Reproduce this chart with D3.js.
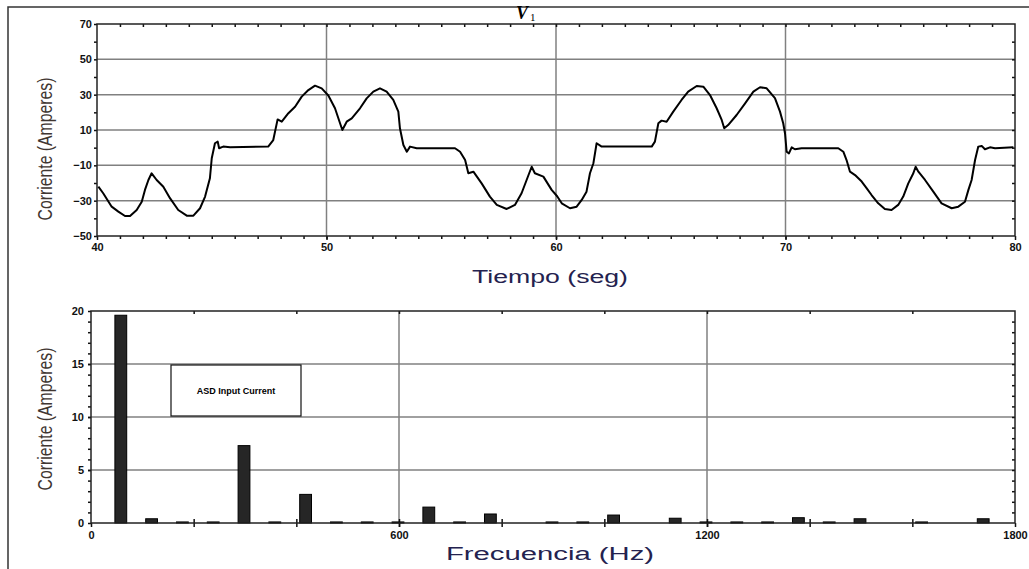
<!DOCTYPE html>
<html>
<head>
<meta charset="utf-8">
<title>Corriente de entrada</title>
<script src="https://cdn.jsdelivr.net/npm/d3@7"></script>
<style>
body { margin: 0; background: #fff; }
.tick text { font-family: "Liberation Sans Narrow", "Arial Narrow", sans-serif; font-weight: bold; font-size: 11px; fill: #111; }
.domain { stroke: none; }
</style>
</head>
<body>
<script>

// onda de corriente (tiempo en seg, corriente en A)
var timeSec = [40.06, 40.27, 40.64, 40.93, 41.22, 41.44, 41.73, 41.95, 42.09, 42.24, 42.38, 42.6, 42.89, 43.18, 43.54, 43.91, 44.2, 44.49, 44.71, 44.92, 45.0, 45.14, 45.26, 45.32, 45.5, 45.8, 47.46, 47.68, 47.87, 48.05, 48.34, 48.63, 48.92, 49.21, 49.5, 49.79, 50.08, 50.37, 50.59, 50.69, 50.88, 51.1, 51.46, 51.75, 52.04, 52.33, 52.62, 52.91, 53.13, 53.2, 53.35, 53.5, 53.64, 53.93, 55.6, 55.82, 56.04, 56.18, 56.4, 56.76, 57.12, 57.42, 57.85, 58.21, 58.5, 58.72, 58.94, 59.08, 59.45, 59.81, 60.05, 60.25, 60.61, 60.9, 61.12, 61.33, 61.48, 61.63, 61.77, 61.99, 62.13, 64.17, 64.31, 64.46, 64.6, 64.82, 65.11, 65.47, 65.76, 66.13, 66.42, 66.71, 67.0, 67.22, 67.33, 67.5, 67.87, 68.24, 68.6, 68.89, 69.18, 69.54, 69.76, 69.9, 69.98, 70.05, 70.15, 70.27, 70.41, 70.7, 72.3, 72.52, 72.66, 72.81, 73.03, 73.32, 73.54, 73.75, 74.04, 74.33, 74.62, 74.91, 75.13, 75.35, 75.57, 75.67, 75.79, 76.08, 76.44, 76.8, 77.24, 77.53, 77.82, 77.97, 78.11, 78.26, 78.4, 78.55, 78.69, 78.91, 79.13, 79.93];
var currentAmp = [-22.1, -25.8, -33.4, -36.2, -38.7, -38.7, -35.3, -30.6, -23.9, -18.3, -14.5, -18.3, -22.1, -28.6, -35.3, -38.5, -38.5, -34.3, -27.7, -17.3, -6.0, 2.5, 3.4, -0.3, 0.6, 0.2, 0.6, 4.3, 16.0, 14.7, 19.5, 23.2, 28.9, 32.6, 35.1, 33.6, 29.5, 22.3, 13.8, 10.0, 14.7, 16.6, 22.3, 27.9, 31.7, 33.6, 31.7, 27.0, 20.4, 11.0, 1.5, -2.3, 0.6, -0.3, -0.3, -2.3, -7.0, -14.5, -13.6, -20.2, -27.7, -32.4, -34.7, -32.4, -25.8, -18.3, -10.8, -14.5, -16.4, -23.9, -27.5, -31.5, -34.3, -33.4, -29.6, -24.9, -14.5, -8.8, 2.5, 0.6, 0.6, 0.6, 3.4, 13.8, 15.3, 14.7, 20.4, 27.0, 31.7, 34.9, 34.5, 29.8, 22.3, 15.7, 11.0, 12.8, 18.5, 25.1, 31.7, 34.2, 33.6, 28.0, 20.4, 13.8, 8.0, -2.3, -3.2, 0.2, -0.9, -0.3, -0.3, -2.3, -7.0, -13.6, -15.5, -19.2, -23.0, -26.8, -31.5, -34.7, -35.3, -32.4, -27.7, -20.2, -14.5, -10.8, -13.6, -18.3, -24.9, -31.5, -34.3, -33.4, -30.6, -23.9, -18.3, -7.0, 0.6, 1.0, -0.9, 0.2, -0.3, 0.2];

// espectro: orden de armonico (x 60 Hz) y amplitud en A
var harmonicOrder = [1, 2, 3, 4, 5, 6, 7, 8, 9, 10, 11, 12, 13, 15, 16, 17, 19, 20, 21, 22, 23, 24, 25, 27, 29];
var harmonicAmp   = [19.6, 0.4, 0.1, 0.1, 7.3, 0.1, 2.7, 0.1, 0.1, 0.1, 1.5, 0.1, 0.85, 0.1, 0.1, 0.75, 0.45, 0.1, 0.1, 0.1, 0.5, 0.1, 0.4, 0.1, 0.4];

var topXTicks = [40, 50, 60, 70, 80];
var topYTicks = [-50, -30, -10, 10, 30, 50, 70];
var botXTicks = [0, 600, 1200, 1800];
var botYTicks = [0, 5, 10, 15, 20];

var svg = d3.select("body").append("svg")
	.attr("width", 1029)
	.attr("height", 569);

// marco exterior
svg.append("path")
	.attr("d", "M8,569 L8,7 L1029,7")
	.attr("fill", "none")
	.attr("stroke", "#333")
	.attr("stroke-width", 1.5);

// titulo V1
svg.append("text")
	.attr("x", 516).attr("y", 19)
	.attr("font-family", "Liberation Serif, serif")
	.attr("font-style", "italic")
	.attr("font-weight", "bold")
	.attr("font-size", 18)
	.text("V");
svg.append("text")
	.attr("x", 530).attr("y", 21)
	.attr("font-family", "Liberation Serif, serif")
	.attr("font-size", 11)
	.text("1");

function gridAndBox(g, x, y, hLines, vLines) {
	g.selectAll(".hg").data(hLines).enter().append("line")
		.attr("x1", x.range()[0]).attr("x2", x.range()[1])
		.attr("y1", function(d){ return y(d); })
		.attr("y2", function(d){ return y(d); })
		.attr("stroke", "#808080").attr("stroke-width", 1.5);
	g.selectAll(".vg").data(vLines).enter().append("line")
		.attr("y1", y.range()[0]).attr("y2", y.range()[1])
		.attr("x1", function(d){ return x(d); })
		.attr("x2", function(d){ return x(d); })
		.attr("stroke", "#808080").attr("stroke-width", 1.5);
}

function drawBox(g, x, y) {
	g.append("rect")
		.attr("x", x.range()[0]).attr("y", y.range()[1])
		.attr("width", x.range()[1] - x.range()[0])
		.attr("height", y.range()[0] - y.range()[1])
		.attr("fill", "none").attr("stroke", "#222").attr("stroke-width", 1.5);
}

function styleTicks(sel) {
	sel.selectAll(".tick line").attr("stroke", "#111").attr("stroke-width", 1.5);
}

// ---------- grafico superior: corriente vs tiempo ----------
var xT = d3.scaleLinear().domain([40, 80]).range([97, 1015]);
var yT = d3.scaleLinear().domain([-50, 70]).range([236, 24]);
var gT = svg.append("g");

gridAndBox(gT, xT, yT, [50, 30, 10, -10, -30], [50, 60, 70]);

gT.append("g").attr("transform", "translate(0,236)")
	.call(d3.axisBottom(xT).tickValues(topXTicks).tickSize(4).tickPadding(3).tickFormat(d3.format("d")))
	.call(styleTicks);
gT.append("g").attr("transform", "translate(0,236)")
	.call(d3.axisBottom(xT).tickValues(d3.range(41, 80)).tickSize(3).tickFormat(""))
	.call(styleTicks);
gT.append("g").attr("transform", "translate(0,24)")
	.call(d3.axisBottom(xT).tickValues(d3.range(41, 80)).tickSize(3).tickFormat(""))
	.call(styleTicks);
gT.append("g").attr("transform", "translate(97,0)")
	.call(d3.axisLeft(yT).tickValues(topYTicks).tickSize(3).tickPadding(2).tickFormat(d3.format("d")))
	.call(styleTicks);
gT.append("g").attr("transform", "translate(97,0)")
	.call(d3.axisLeft(yT).tickValues(d3.range(-40, 70, 20)).tickSize(3).tickFormat(""))
	.call(styleTicks);
gT.append("g").attr("transform", "translate(1015,0)")
	.call(d3.axisLeft(yT).tickValues(d3.range(-40, 70, 10)).tickSize(3).tickFormat(""))
	.call(styleTicks);

drawBox(gT, xT, yT);

var line = d3.line()
	.x(function(d, i){ return xT(timeSec[i]); })
	.y(function(d){ return yT(d); });

gT.append("path")
	.datum(currentAmp)
	.attr("d", line)
	.attr("fill", "none")
	.attr("stroke", "#000")
	.attr("stroke-width", 2)
	.attr("stroke-linejoin", "round");

// ---------- grafico inferior: espectro ----------
var xB = d3.scaleLinear().domain([0, 1800]).range([91, 1015]);
var yB = d3.scaleLinear().domain([0, 20]).range([523, 311]);
var gB = svg.append("g");

gridAndBox(gB, xB, yB, [5, 10, 15], [600, 1200]);

gB.append("g").attr("transform", "translate(0,523)")
	.call(d3.axisBottom(xB).tickValues(botXTicks).tickSize(4).tickPadding(4).tickFormat(d3.format("d")))
	.call(styleTicks);
gB.append("g").attr("transform", "translate(0,527)")
	.call(d3.axisTop(xB).tickValues(d3.range(200, 1800, 200)).tickSize(8).tickFormat(""))
	.call(styleTicks);
gB.append("g").attr("transform", "translate(0,311)")
	.call(d3.axisBottom(xB).tickValues(d3.range(200, 1800, 200)).tickSize(3).tickFormat(""))
	.call(styleTicks);
gB.append("g").attr("transform", "translate(91,0)")
	.call(d3.axisLeft(yB).tickValues(botYTicks).tickSize(3).tickPadding(4).tickFormat(d3.format("d")))
	.call(styleTicks);
gB.append("g").attr("transform", "translate(91,0)")
	.call(d3.axisLeft(yB).tickValues(d3.range(1, 20)).tickSize(3).tickFormat(""))
	.call(styleTicks);
gB.append("g").attr("transform", "translate(1015,0)")
	.call(d3.axisLeft(yB).tickValues(d3.range(1, 20)).tickSize(3).tickFormat(""))
	.call(styleTicks);

var barW = xB(23) - xB(0);
gB.selectAll(".bar")
	.data(harmonicAmp)
	.enter()
	.append("rect")
	.attr("class", "bar")
	.attr("x", function(d, i){ return xB(harmonicOrder[i] * 60) - barW / 2 - 1; })
	.attr("y", function(d){ return yB(d); })
	.attr("width", barW)
	.attr("height", function(d){ return yB(0) - yB(d); })
	.attr("fill", "#262626")
	.attr("stroke", "#000")
	.attr("stroke-width", 1);

drawBox(gB, xB, yB);

// leyenda
gB.append("rect")
	.attr("x", 171).attr("y", 365)
	.attr("width", 130).attr("height", 51)
	.attr("fill", "#fff").attr("stroke", "#111").attr("stroke-width", 1.2);
gB.append("text")
	.attr("x", 236).attr("y", 394)
	.attr("text-anchor", "middle")
	.attr("font-family", "Liberation Sans Narrow, Arial Narrow, sans-serif")
	.attr("font-weight", "bold")
	.attr("font-size", 9)
	.text("ASD Input Current");

// titulos de ejes
function yTitle(cy) {
	svg.append("text")
		.attr("transform", "translate(52," + cy + ") rotate(-90)")
		.attr("text-anchor", "middle")
		.attr("font-family", "Liberation Sans Narrow, Arial Narrow, sans-serif")
		.attr("font-size", 20)
		.attr("fill", "#3f3631")
		.attr("textLength", 143)
		.attr("lengthAdjust", "spacingAndGlyphs")
		.text("Corriente (Amperes)");
}
yTitle(149);
yTitle(419);

function xTitle(cx, y, txt, len) {
	svg.append("text")
		.attr("x", cx).attr("y", y)
		.attr("text-anchor", "middle")
		.attr("font-family", "Liberation Sans, Arial, sans-serif")
		.attr("font-size", 18)
		.attr("fill", "#24224f")
		.attr("textLength", len)
		.attr("lengthAdjust", "spacingAndGlyphs")
		.text(txt);
}
xTitle(550, 283, "Tiempo (seg)", 156);
xTitle(550, 560, "Frecuencia (Hz)", 208);

</script>
</body>
</html>
